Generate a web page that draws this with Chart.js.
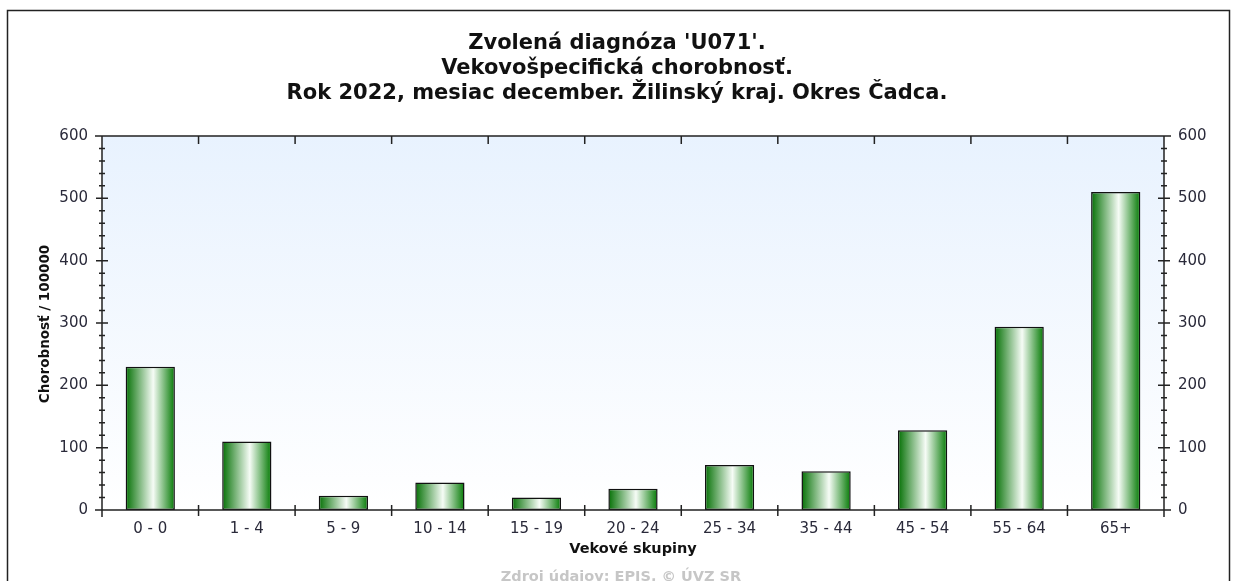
<!DOCTYPE html>
<html>
<head>
<meta charset="utf-8">
<script src="https://cdn.jsdelivr.net/npm/chart.js@4"></script>
<style>
  html, body { margin: 0; padding: 0; background: #fff; }
  #wrap { width: 1234px; height: 581px; }
</style>
</head>
<body>
<div id="wrap"><canvas id="barChart" width="1234" height="581"></canvas></div>
<script>
const categories = ['0 - 0', '1 - 4', '5 - 9', '10 - 14', '15 - 19', '20 - 24', '25 - 34', '35 - 44', '45 - 54', '55 - 64', '65+'];
const rates = [230, 110, 23, 44, 20, 34, 72, 62, 128, 294, 510];
const yTicks = [0, 100, 200, 300, 400, 500, 600];

const titleLines = ["Zvolená diagnóza 'U071'.", 'Vekovošpecifická chorobnosť.', 'Rok 2022, mesiac december. Žilinský kraj. Okres Čadca.'];
const yTitle = 'Chorobnosť / 100000';
const xTitle = 'Vekové skupiny';
const sourceText = 'Zdroj údajov: EPIS, © ÚVZ SR';

const BAR_PCT = 0.51;
const FONT = '"DejaVu Sans", sans-serif';

// zelený valcový prechod na stĺpcoch
const barFill = (context) => {
  const chart = context.chart;
  const area = chart.chartArea;
  if (!area) return '#2a8a2a';
  const xs = chart.scales.x;
  const cx = xs.getPixelForValue(context.dataIndex);
  const half = (xs.width / categories.length) * BAR_PCT / 2;
  const g = chart.ctx.createLinearGradient(cx - half, 0, cx + half, 0);
  g.addColorStop(0, '#047004');
  g.addColorStop(0.56, '#f6fcf6');
  g.addColorStop(1, '#047a04');
  return g;
};

const framePlugin = {
  id: 'frame',
  beforeDatasetsDraw(chart) {
    const { ctx, chartArea: a } = chart;
    const g = ctx.createLinearGradient(0, a.top, 0, a.bottom);
    g.addColorStop(0, '#e8f2fe');
    g.addColorStop(1, '#ffffff');
    ctx.save();
    ctx.fillStyle = g;
    ctx.fillRect(a.left, a.top, a.right - a.left, a.bottom - a.top);
    ctx.restore();
  },
  afterDatasetsDraw(chart) {
    const { ctx, chartArea: a } = chart;
    const xs = chart.scales.x;
    const ys = chart.scales.y;
    ctx.save();
    ctx.strokeStyle = '#222';
    ctx.lineWidth = 1.5;
    ctx.beginPath();
    // osi
    ctx.moveTo(a.left - 7, a.top); ctx.lineTo(a.right + 7, a.top);
    ctx.moveTo(a.left - 7, a.bottom); ctx.lineTo(a.right + 7, a.bottom);
    ctx.moveTo(a.left, a.top); ctx.lineTo(a.left, a.bottom + 7);
    ctx.moveTo(a.right, a.top); ctx.lineTo(a.right, a.bottom + 7);
    // delenie kategórií
    const step = xs.width / categories.length;
    for (let i = 1; i < categories.length; i++) {
      const x = xs.left + step * i;
      ctx.moveTo(x, a.bottom - 5); ctx.lineTo(x, a.bottom + 6);
      ctx.moveTo(x, a.top); ctx.lineTo(x, a.top + 8);
    }
    // hlavné a vedľajšie značky na y
    for (let v = 0; v <= 600; v += 20) {
      const y = ys.getPixelForValue(v);
      const len = v % 100 === 0 ? 6 : 3;
      ctx.moveTo(a.left - len, y); ctx.lineTo(a.left + len, y);
      ctx.moveTo(a.right - len, y); ctx.lineTo(a.right + len, y);
    }
    ctx.stroke();
    ctx.restore();
  },
  afterDraw(chart) {
    const { ctx, chartArea: a } = chart;
    ctx.save();
    ctx.strokeStyle = '#222';
    ctx.lineWidth = 1.5;
    ctx.strokeRect(7.5, 10.5, 1222, 700);

    ctx.fillStyle = '#111';
    ctx.textAlign = 'center';
    ctx.textBaseline = 'middle';
    ctx.font = 'bold 21px ' + FONT;
    titleLines.forEach((t, i) => ctx.fillText(t, 617, 44 + i * 25));

    const midX = (a.left + a.right) / 2;
    ctx.font = 'bold 14.5px ' + FONT;
    ctx.fillText(xTitle, midX, 549);

    ctx.fillStyle = '#c6c6c6';
    ctx.fillText(sourceText, 621, 577);

    ctx.fillStyle = '#111';
    ctx.font = 'bold 13.5px ' + FONT;
    ctx.translate(45, 324);
    ctx.rotate(-Math.PI / 2);
    ctx.fillText(yTitle, 0, 0);
    ctx.restore();
  },
};

const yAxis = (position, width) => ({
  position: position,
  min: 0,
  max: 600,
  afterBuildTicks: (scale) => { scale.ticks = yTicks.map(v => ({ value: v })); },
  afterFit: (scale) => { scale.width = width; },
  grid: { display: false, drawTicks: false },
  border: { display: false },
  ticks: {
    padding: 14,
    color: '#2a2a3a',
    font: { family: FONT, size: 15 },
  },
});

new Chart(document.getElementById('barChart').getContext('2d'), {
  type: 'bar',
  data: {
    labels: categories,
    datasets: [
      {
        data: rates,
        backgroundColor: barFill,
        borderColor: '#111',
        borderWidth: 1.5,
        borderSkipped: false,
        barPercentage: BAR_PCT,
        categoryPercentage: 1,
      },
    ],
  },
  plugins: [framePlugin],
  options: {
    responsive: false,
    animation: false,
    layout: { padding: { top: 136, left: 0, right: 0, bottom: 0 } },
    plugins: {
      legend: { display: false },
      tooltip: { enabled: false },
    },
    scales: {
      x: {
        position: 'bottom',
        afterFit: (scale) => { scale.height = 71; },
        grid: { display: false, drawTicks: false },
        border: { display: false },
        ticks: {
          padding: 10,
          maxRotation: 0,
          color: '#2a2a3a',
          font: { family: FONT, size: 15 },
        },
      },
      y: yAxis('left', 102),
      y2: yAxis('right', 70),
    },
  },
});
</script>
</body>
</html>
